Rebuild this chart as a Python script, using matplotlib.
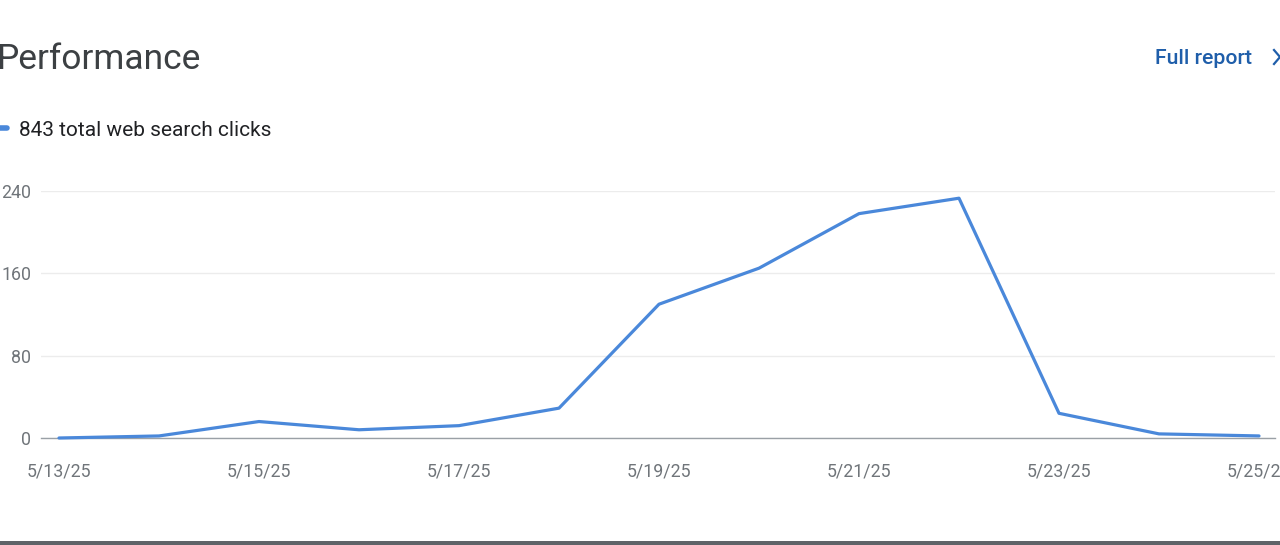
import matplotlib.pyplot as plt
from matplotlib.patches import Rectangle
from matplotlib.lines import Line2D

# ============================================
# DATA
# ============================================

dates = ["5/13/25", "5/14/25", "5/15/25", "5/16/25", "5/17/25", "5/18/25", "5/19/25",
         "5/20/25", "5/21/25", "5/22/25", "5/23/25", "5/24/25", "5/25/25"]
clicks = [0, 2, 16, 8, 12, 29, 130, 165, 218, 233, 24, 4, 2]
y_ticks = [0, 80, 160, 240]

plt.rcParams["font.family"] = ["Roboto", "DejaVu Sans"]

line_color = "#4a88da"
tick_color = "#70757a"

# ============================================
# FIGURE
# ============================================

fig = plt.figure(figsize=(12.8, 5.45), dpi=100)
ax = fig.add_axes([41 / 1280, (545 - 438) / 545, (1275 - 41) / 1280, 247 / 545])

x = list(range(len(dates)))
ax.plot(x, clicks, color=line_color, linewidth=2.3, solid_joinstyle="round",
        solid_capstyle="round", clip_on=False, zorder=3)

ax.set_xlim(-0.18, 12.16)
ax.set_ylim(0, 240)

ax.set_yticks(y_ticks)
ax.set_yticklabels([str(v) for v in y_ticks])
ax.set_xticks(x[::2])
ax.set_xticklabels(dates[::2])

ax.tick_params(axis="both", length=0, labelsize=12.8, labelcolor=tick_color)
ax.tick_params(axis="y", pad=7)
ax.tick_params(axis="x", pad=18)

ax.grid(axis="y", color="#ececec", linewidth=1)
ax.set_axisbelow(True)
for side in ["top", "right", "left"]:
    ax.spines[side].set_visible(False)
ax.spines["bottom"].set_color("#9aa0a6")
ax.spines["bottom"].set_linewidth(1)

# ============================================
# HEADER TEXT
# ============================================

fig.text(-0.003, 1 - 59 / 545, "Performance", fontsize=25.5, color="#3c4043",
         va="center", ha="left")
fig.text(1252 / 1280, 1 - 58 / 545, "Full report", fontsize=15.3, color="#1f5eaa",
         va="center", ha="right", fontweight="medium")
fig.add_artist(Line2D([1274 / 1280, 1280 / 1280, 1274 / 1280],
                      [1 - 50 / 545, 1 - 57 / 545, 1 - 64 / 545],
                      color="#1f5eaa", linewidth=1.6, transform=fig.transFigure))

fig.add_artist(Line2D([0.0, 7 / 1280], [1 - 128 / 545, 1 - 128 / 545],
                      color=line_color, linewidth=4, solid_capstyle="round",
                      transform=fig.transFigure))
fig.text(19 / 1280, 1 - 130 / 545, "843 total web search clicks", fontsize=15,
         color="#202124", va="center", ha="left")

# bottom border bar
fig.add_artist(Rectangle((0, 0), 1, 4 / 545, transform=fig.transFigure,
                         color="#5f6368", linewidth=0))

fig.savefig("out.png", dpi=100, facecolor="white")
